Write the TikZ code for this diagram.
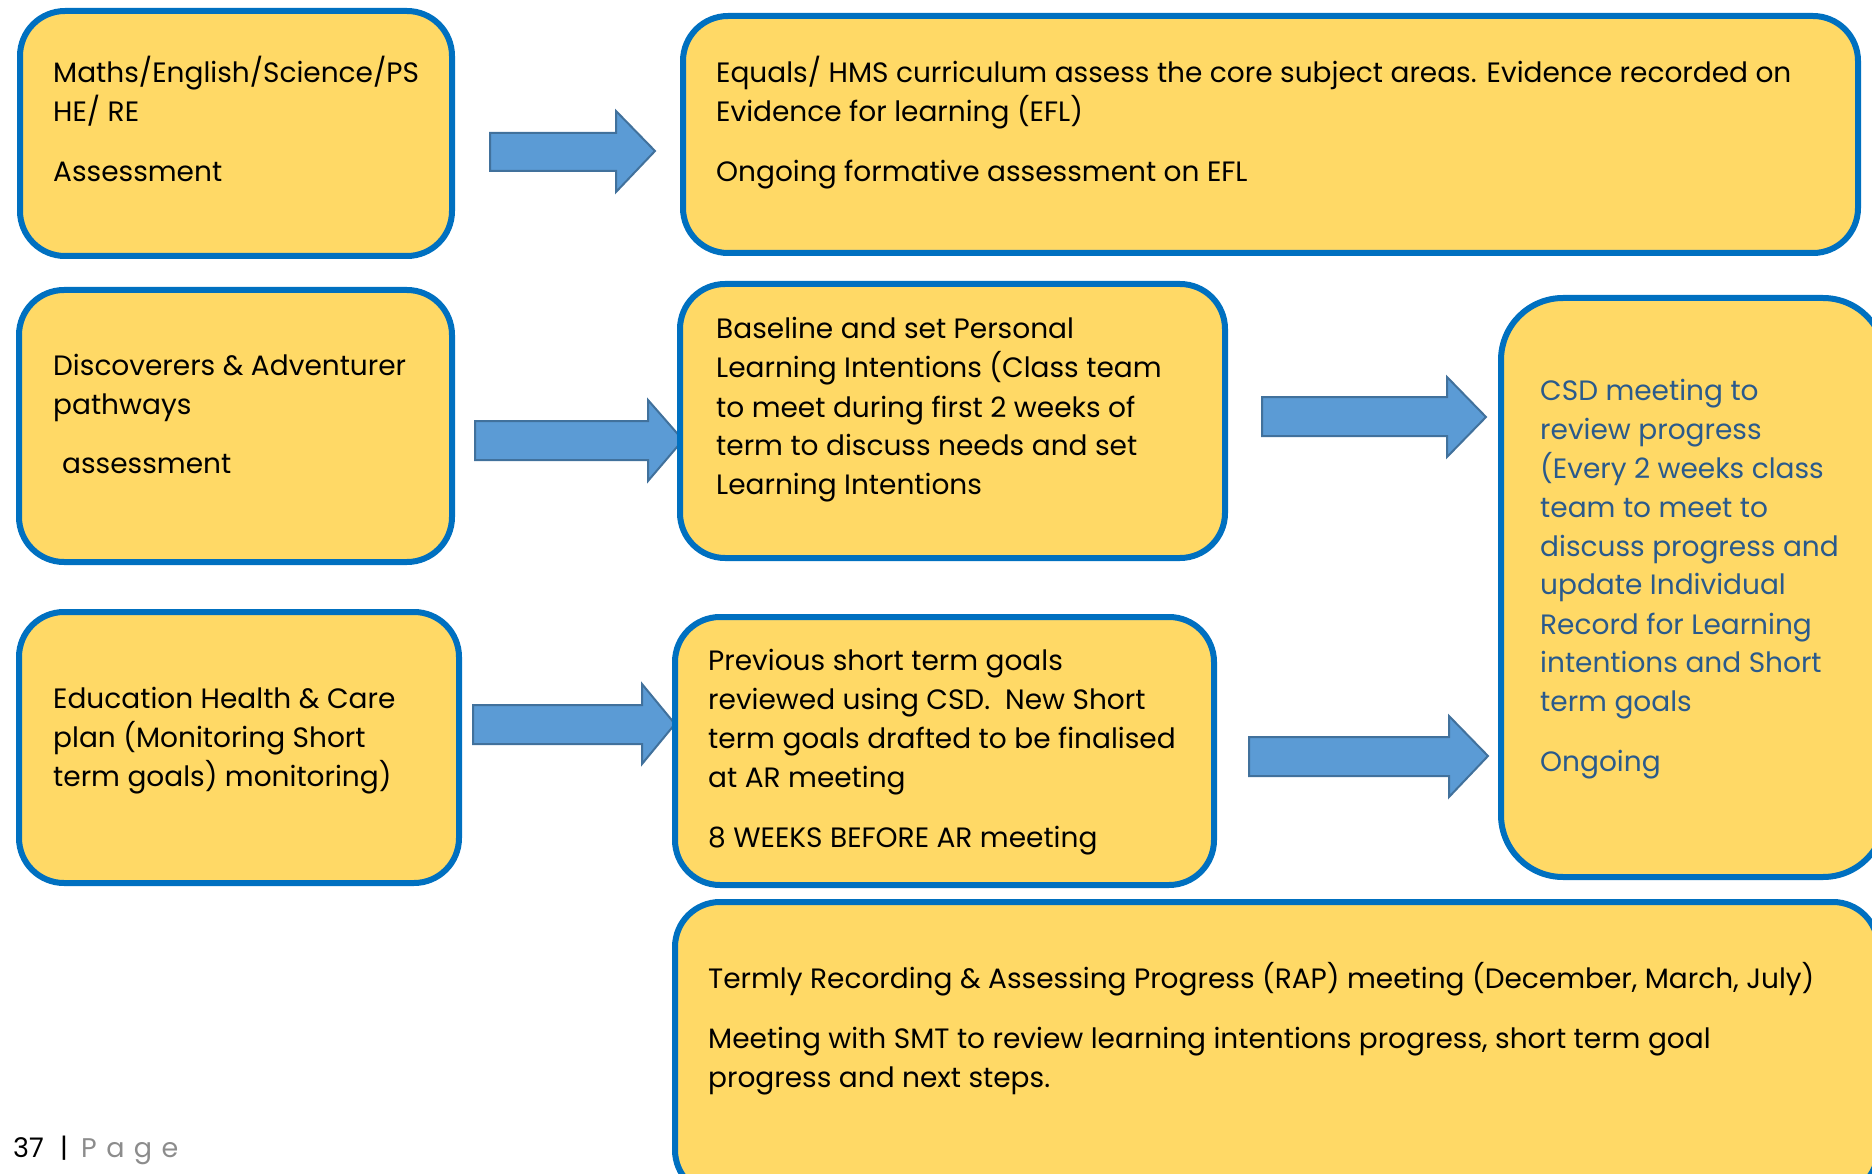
\documentclass[tikz,border=0pt]{standalone}
\usepackage{fontspec}
\setmainfont{Poppins}
\definecolor{boxfill}{HTML}{FFD966}
\definecolor{boxline}{HTML}{0070C0}
\definecolor{arrfill}{HTML}{5B9BD5}
\definecolor{arrline}{HTML}{41719C}
\definecolor{bluetext}{HTML}{2A5A8C}
\definecolor{pagegrey}{HTML}{8C8C8C}
\tikzset{
  box/.style={draw=boxline, fill=boxfill, line width=6pt, rounded corners=45pt, inner sep=0pt},
  txt/.style={anchor=base west, inner sep=0pt, font=\fontsize{28}{39}\selectfont},
  pagetxt/.style={anchor=base west, inner sep=0pt, font=\fontsize{27}{34}\selectfont},
  blockarrow/.style={fill=arrfill, draw=arrline, line width=2pt, line join=miter}
}
\begin{document}
\begin{tikzpicture}[x=1pt,y=-1pt]
\useasboundingbox (0,0) rectangle (1872,1174);
\clip (0,0) rectangle (1872,1174);
% arrows
\draw[blockarrow] (490,133) -- (616,133) -- (616,111) -- (655,151) -- (616,192) -- (616,171) -- (490,171) -- cycle;
\draw[blockarrow] (475,421) -- (648,421) -- (648,400) -- (683,440) -- (648,481) -- (648,460) -- (475,460) -- cycle;
\draw[blockarrow] (1262,397) -- (1447,397) -- (1447,377) -- (1486,417) -- (1447,457) -- (1447,436) -- (1262,436) -- cycle;
\draw[blockarrow] (1249,737) -- (1449,737) -- (1449,716) -- (1488,756) -- (1449,797) -- (1449,776) -- (1249,776) -- cycle;
\draw[blockarrow] (473,705) -- (642,705) -- (642,684) -- (675,724) -- (642,764) -- (642,744) -- (473,744) -- cycle;
% boxes
\node[box, minimum width=432pt, minimum height=245pt] (A) at (236,133.5) {};
\node[box, minimum width=1175pt, minimum height=237pt] (B) at (1270.5,134.5) {};
\node[box, minimum width=433pt, minimum height=272pt] (C) at (235.5,426) {};
\node[box, minimum width=545pt, minimum height=274pt] (D) at (952.5,421) {};
\node[box, rounded corners=62pt, minimum width=384pt, minimum height=579pt] (E) at (1693,587.5) {};
\node[box, minimum width=539pt, minimum height=268pt] (F) at (944.5,751) {};
\node[box, minimum width=440pt, minimum height=271pt] (G) at (239,747.5) {};
\node[box, minimum width=1203pt, minimum height=293pt] (H) at (1276.5,1048.5) {};
% texts
\node[txt] (tA) at (53,83) {\parbox[t]{400pt}{Maths/English/Science/PS\\HE/ RE\\[21pt]Assessment}};
\node[txt] (tB) at (716,83) {\parbox[t]{1150pt}{Equals/ HMS curriculum assess the core subject areas. Evidence recorded on\\Evidence for learning (EFL)\\[21pt]Ongoing formative assessment on EFL}};
\node[txt] (tC) at (53,376) {\parbox[t]{400pt}{Discoverers \& Adventurer\\pathways\\[20pt]\hspace*{9pt}assessment}};
\node[txt] (tD) at (716,339) {\parbox[t]{500pt}{Baseline and set Personal\\Learning Intentions (Class team\\to meet during first 2 weeks of\\term to discuss needs and set\\Learning Intentions}};
\node[txt, text=bluetext] (tE) at (1540,400) {\parbox[t]{330pt}{CSD meeting to\\review progress\\(Every 2 weeks class\\team to meet to\\discuss progress and\\update Individual\\Record for Learning\\intentions and Short\\term goals\\[21pt]Ongoing}};
\node[txt] (tF) at (708,670) {\parbox[t]{500pt}{Previous short term goals\\reviewed using CSD.\ \ New Short\\term goals drafted to be finalised\\at AR meeting\\[21pt]8 WEEKS BEFORE AR meeting}};
\node[txt] (tG) at (53,708) {\parbox[t]{400pt}{Education Health \& Care\\plan (Monitoring Short\\term goals) monitoring)}};
\node[txt] (tH) at (708,988) {\parbox[t]{1150pt}{Termly Recording \& Assessing Progress (RAP) meeting (December, March, July)\\[21pt]Meeting with SMT to review learning intentions progress, short term goal\\progress and next steps.}};
% footer
\node[pagetxt] (pgnum) at (13,1157) {37};
\node[pagetxt] (pgbar) at (60,1157) {|};
\node[pagetxt, text=pagegrey] (pgword) at (81,1157) {\addfontfeature{LetterSpace=35}Page};
\end{tikzpicture}
\end{document}
